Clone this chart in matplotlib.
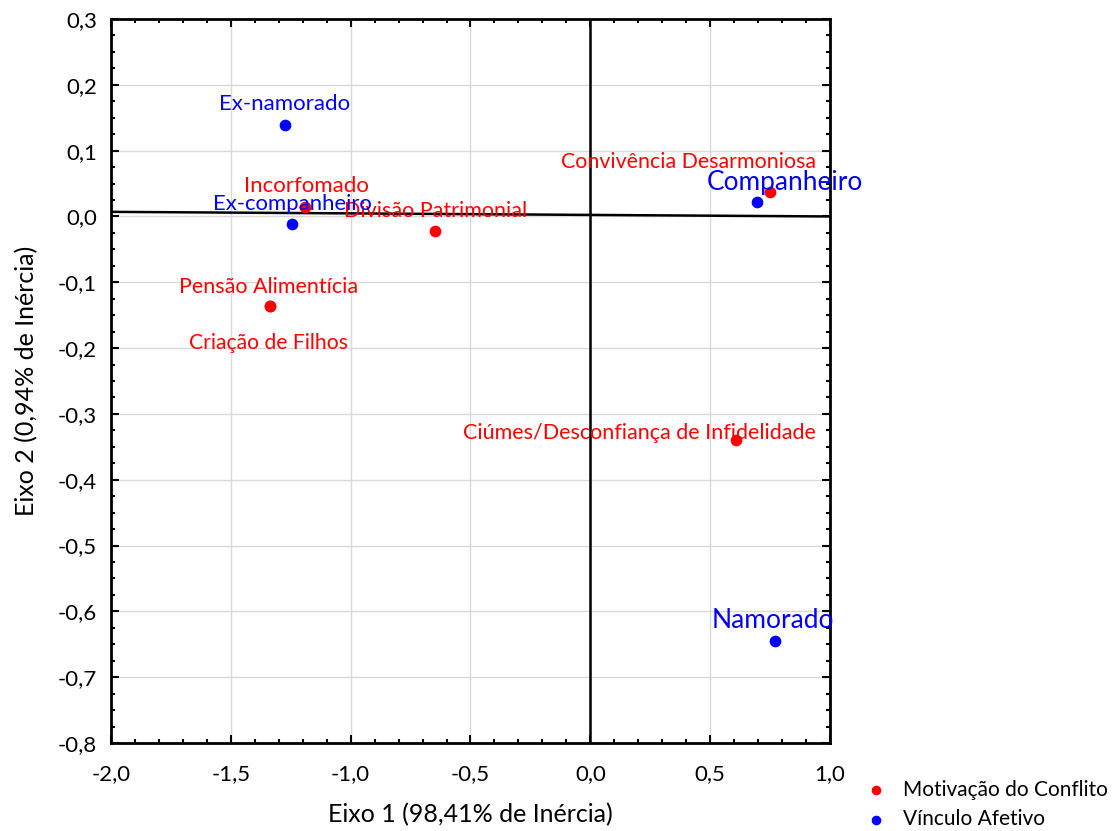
import matplotlib
matplotlib.use("Agg")
import matplotlib.pyplot as plt
from matplotlib.ticker import MultipleLocator, FuncFormatter

# Motivação do Conflito (red)
motiv_labels = ["Incorfomado", "Divisão Patrimonial", "Pensão Alimentícia",
                "Criação de Filhos", "Convivência Desarmoniosa",
                "Ciúmes/Desconfiança de Infidelidade"]
motiv_x = [-1.191, -0.648, -1.337, -1.337, 0.749, 0.607]
motiv_y = [0.014, -0.022, -0.136, -0.136, 0.037, -0.340]

# Vínculo Afetivo (blue)
vinc_labels = ["Ex-namorado", "Ex-companheiro", "Companheiro", "Namorado"]
vinc_x = [-1.274, -1.245, 0.695, 0.770]
vinc_y = [0.139, -0.012, 0.022, -0.645]

# label offsets in pixels (dx, dy) and font sizes
motiv_off = [(2, 21), (1, 20), (-1, 19), (-1, -37), (-81, 30), (-96, 7)]
motiv_fs = [16, 15.5, 15.5, 15.2, 15.4, 15.5]
vinc_off = [(0, 21), (0, 20), (28, 19), (-2, 20)]
vinc_fs = [16, 15.9, 18.9, 19]

hline_y = [0.007, 0.0]

plt.rcParams['font.family'] = ['Lato', 'DejaVu Sans']

fig = plt.figure(figsize=(11.2, 8.31), dpi=100)
ax = fig.add_axes((111/1120, 88/831, 719/1120, 724/831))

ax.set_xlim(-2.0, 1.0)
ax.set_ylim(-0.8, 0.3)
ax.xaxis.set_major_locator(MultipleLocator(0.5))
ax.xaxis.set_minor_locator(MultipleLocator(0.1))
ax.yaxis.set_major_locator(MultipleLocator(0.1))
ax.yaxis.set_minor_locator(MultipleLocator(0.025))
fmt = FuncFormatter(lambda v, p: ("%.1f" % v).replace(".", ",").replace("-0,0", "0,0"))
ax.xaxis.set_major_formatter(fmt)
ax.yaxis.set_major_formatter(fmt)
ax.tick_params(which="both", direction="in", top=True, right=True, width=1.5)
ax.tick_params(which="major", length=6, labelsize=16)
ax.tick_params(axis="x", which="major", pad=15)
ax.tick_params(axis="y", which="major", pad=10)
ax.tick_params(which="minor", length=3)
ax.grid(True, which="major", color="#d9d9d9", linewidth=1)
ax.set_axisbelow(True)
for s in ax.spines.values():
    s.set_linewidth(2)

ax.plot([-2.0, 1.0], hline_y, color="black", linewidth=1.8, zorder=2)
ax.axvline(0, color="black", linewidth=1.8, zorder=2)

ax.scatter(motiv_x, motiv_y, s=55, color="#ff0000", zorder=3, label="Motivação do Conflito")
ax.scatter(vinc_x, vinc_y, s=55, color="#0000ff", zorder=3, label="Vínculo Afetivo")

for lab, x, y, off, fs in zip(motiv_labels, motiv_x, motiv_y, motiv_off, motiv_fs):
    ax.annotate(lab, (x, y), xytext=off, textcoords="offset pixels",
                ha="center", va="center", color="#ff0000", fontsize=fs, zorder=4)
for lab, x, y, off, fs in zip(vinc_labels, vinc_x, vinc_y, vinc_off, vinc_fs):
    ax.annotate(lab, (x, y), xytext=off, textcoords="offset pixels",
                ha="center", va="center", color="#0000ff", fontsize=fs, zorder=4)

ax.set_xlabel("Eixo 1 (98,41% de Inércia)", fontsize=18, labelpad=14)
ax.set_ylabel("Eixo 2 (0,94% de Inércia)", fontsize=18, labelpad=14)

fig.legend(loc="lower left", bbox_to_anchor=(847/1120, -17/831), frameon=False,
           fontsize=15, handlelength=1.0, handletextpad=0.8, labelspacing=0.45,
           scatterpoints=1, markerscale=0.8)

fig.savefig("out.png", dpi=100)
